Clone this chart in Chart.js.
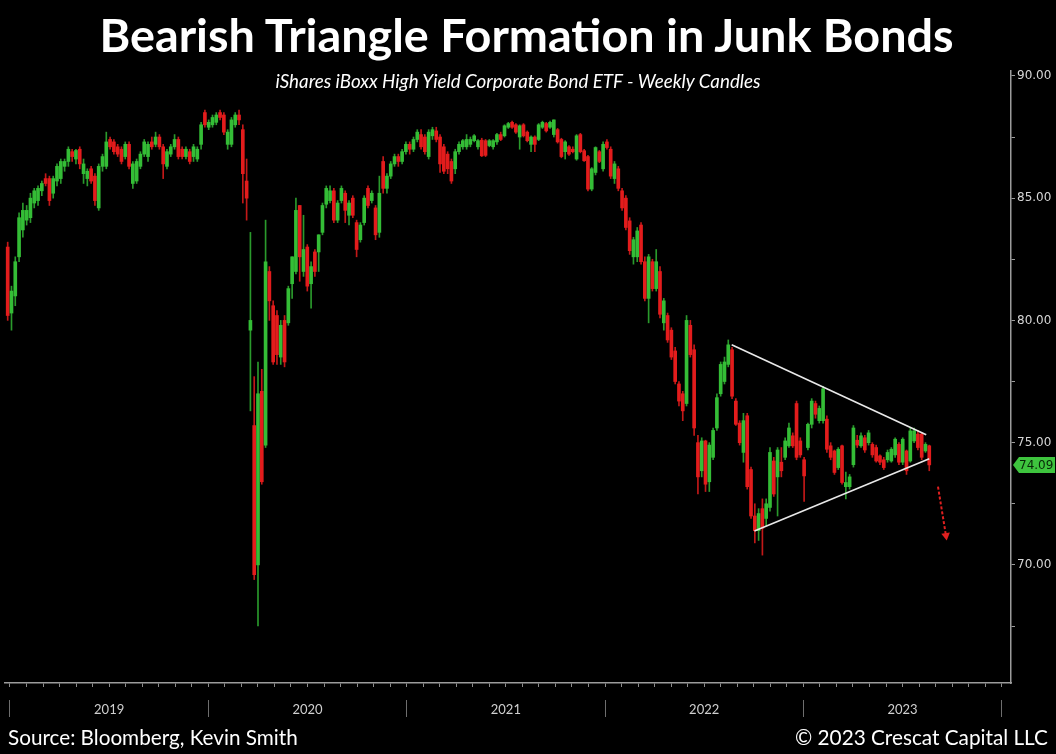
<!DOCTYPE html>
<html>
<head>
<meta charset="utf-8">
<script src="https://cdn.jsdelivr.net/npm/chart.js@4.4.0/dist/chart.umd.min.js"></script>
<style>
  html, body { margin: 0; padding: 0; background: #000; }
  #wrap { position: relative; width: 1056px; height: 754px; background: #000; overflow: hidden; }
  #chart { position: absolute; left: 0; top: 0; }
  .txt { position: absolute; color: #fff; white-space: nowrap; line-height: 1; font-family: Lato, sans-serif; }
  #title { font-weight: 700; }
  #subtitle { font-style: italic; }
</style>
</head>
<body>
<div id="wrap">
  <canvas id="chart" width="1056" height="754"></canvas>
  <div id="title" class="txt">Bearish Triangle Formation in Junk Bonds</div>
  <div id="subtitle" class="txt">iShares iBoxx High Yield Corporate Bond ETF - Weekly Candles</div>
  <div id="source" class="txt">Source: Bloomberg, Kevin Smith</div>
  <div id="copy" class="txt">© 2023 Crescat Capital LLC</div>
</div>
<script>
// weekly candles, HYG, from the last week of Dec 2018 (index 0) onward
var open = [
  83.0, 80.3, 81.0, 82.6, 83.7, 84.1, 84.2, 84.8, 84.9, 85.3,
  85.8, 85.8, 85.2, 85.7, 85.8, 86.3, 86.5, 86.9, 86.6, 87.0,
  86.0, 85.8, 86.2, 85.9, 84.6, 86.3, 86.3, 87.4, 87.3, 87.1,
  87.0, 86.7, 87.2, 85.6, 85.7, 86.3, 86.8, 86.7, 87.3, 87.2,
  87.5, 87.1, 86.3, 86.8, 87.1, 87.4, 87.0, 86.7, 86.9, 86.7,
  86.6, 87.2, 88.5, 87.9, 88.0, 88.1, 88.5, 88.4, 87.2, 87.2,
  88.0, 88.4, 87.8, 85.7, 79.6, 75.7, 70.0, 77.1, 74.9, 82.0,
  80.6, 80.2, 78.5, 80.0, 79.9, 81.5, 82.0, 84.7, 82.0, 83.0,
  81.5, 82.8, 82.8, 83.6, 84.75, 84.9, 85.3, 84.1, 84.9, 85.2,
  84.3, 85.0, 84.0, 83.3, 84.0, 85.4, 84.9, 84.6, 83.6, 86.5,
  85.4, 85.9, 86.4, 86.7, 86.5, 86.9, 87.2, 87.0, 87.4, 87.6,
  87.5, 86.7, 87.55, 87.75, 87.5, 87.1, 86.8, 86.5, 86.2, 86.9,
  87.1, 87.1, 87.2, 87.35, 87.1, 87.37, 87.35, 87.15, 87.1, 87.3,
  87.6, 87.55, 87.9, 88.1, 88.0, 87.5, 88.0, 87.7, 87.2, 87.5,
  87.4, 87.9, 88.05, 87.9, 87.6, 87.8, 87.4, 86.9, 87.1, 87.0,
  86.6, 87.6, 86.94, 86.7, 85.37, 86.05, 86.9, 86.2, 87.3, 87.0,
  85.8, 86.2, 85.3, 85.0, 84.07, 82.6, 82.6, 83.9, 82.4, 80.9,
  82.4, 81.3, 82.0, 79.9, 80.2, 79.6, 78.75, 77.4, 77.0, 76.6,
  79.8, 78.8, 75.0, 73.85, 75.07, 73.4, 74.4, 75.6, 77.0, 77.5,
  78.2, 78.8, 76.7, 75.8, 74.6, 76.1, 73.9, 72.0, 71.4, 72.3,
  71.9, 72.35, 74.25, 73.6, 74.2, 74.4, 74.87, 75.28, 76.6, 75.07,
  74.3, 74.8, 75.75, 76.6, 75.9, 75.9, 75.96, 74.87, 74.66, 73.98,
  74.87, 73.2, 73.2, 74.1, 75.1, 74.87, 75.2, 75.0, 74.93, 74.8,
  74.46, 74.3, 74.3, 74.25, 74.5, 74.93, 74.2, 74.66, 74.25, 75.07,
  75.35, 75.35, 74.66, 74.87
];
var high = [
  83.2, 81.4, 82.6, 84.4, 84.8, 84.7, 85.2, 85.4, 85.5, 85.7,
  86.0, 85.9, 85.9, 86.4, 86.6, 86.6, 87.1, 87.0, 87.0, 87.1,
  86.6, 86.2, 86.3, 86.0, 86.4, 86.8, 87.7, 87.5, 87.4, 87.2,
  87.1, 87.3, 87.3, 86.5, 86.6, 86.9, 87.4, 87.3, 87.5, 87.7,
  87.6, 87.2, 87.0, 87.2, 87.6, 87.5, 87.1, 87.1, 87.0, 87.2,
  87.1, 88.1, 88.6, 88.2, 88.4, 88.5, 88.6, 88.5, 87.8, 88.3,
  88.5, 88.6, 88.0, 86.6, 83.6, 77.7, 78.3, 78.0, 84.1, 82.2,
  80.8, 80.4, 80.0, 80.2, 81.4, 82.6, 85.0, 84.7, 84.3, 83.1,
  82.4, 82.9, 83.5, 84.8, 85.5, 85.5, 85.4, 84.9, 85.5, 85.3,
  84.9, 85.1, 84.1, 84.0, 85.1, 85.5, 85.3, 84.7, 85.9, 86.7,
  86.0, 86.5, 86.8, 86.8, 87.0, 87.3, 87.3, 87.5, 87.8, 87.8,
  87.6, 87.8, 87.9, 87.9, 87.6, 87.2, 86.9, 86.6, 87.0, 87.3,
  87.4, 87.6, 87.5, 87.6, 87.4, 87.45, 87.4, 87.4, 87.4, 87.65,
  87.7, 88.0, 88.1, 88.15, 88.05, 88.0, 88.05, 87.75, 87.55, 87.55,
  88.05, 88.15, 88.1, 88.15, 88.2, 87.85, 87.45, 87.35, 87.15, 87.1,
  87.6, 87.65, 87.0, 86.75, 86.25, 87.1, 86.95, 87.3, 87.4, 87.1,
  86.5, 86.3, 85.4, 85.1, 84.2, 83.4, 83.8, 84.0, 82.6, 82.7,
  82.5, 82.9, 82.2, 80.9, 80.3, 79.7, 78.9, 77.5, 77.1, 80.2,
  80.0, 79.0, 75.3, 75.2, 75.1, 75.0, 75.6, 77.0, 78.3, 78.5,
  79.2, 78.9, 76.8, 75.9, 76.2, 76.2, 74.0, 72.5, 72.3, 72.7,
  72.7, 74.8, 74.4, 74.8, 74.8, 75.2, 75.8, 75.4, 76.7, 75.2,
  74.4, 75.8, 76.8, 76.7, 76.5, 77.3, 76.1, 75.0, 74.7, 74.8,
  74.9, 73.8, 73.7, 75.7, 75.3, 75.4, 75.3, 75.5, 75.0, 74.9,
  74.5, 74.4, 74.7, 74.8, 75.2, 75.0, 75.2, 74.7, 75.6, 75.6,
  75.5, 75.4, 75.0, 74.9
];
var low = [
  80.0, 79.6, 80.6, 82.4, 83.4, 83.9, 84.0, 84.6, 84.7, 85.1,
  85.5, 84.7, 85.0, 85.5, 85.6, 86.1, 86.3, 86.5, 86.4, 86.2,
  85.6, 85.5, 85.6, 84.7, 84.5, 86.1, 86.2, 87.0, 86.8, 86.7,
  86.4, 86.6, 86.2, 85.4, 85.6, 86.2, 86.7, 86.5, 87.0, 87.1,
  87.0, 85.8, 86.2, 86.7, 87.0, 86.6, 86.6, 86.6, 86.4, 86.5,
  86.5, 87.0, 87.9, 87.8, 87.9, 88.0, 88.2, 87.6, 87.0, 87.1,
  87.9, 88.0, 84.8, 84.1, 76.3, 69.4, 67.5, 73.3, 74.8, 80.0,
  78.2, 78.2, 78.2, 78.1, 79.8, 80.9, 81.9, 81.6, 81.8, 81.2,
  80.5, 81.8, 82.0, 83.5, 84.6, 84.8, 84.0, 84.0, 84.8, 84.0,
  83.9, 84.2, 82.6, 83.2, 83.9, 84.6, 84.8, 83.3, 83.4, 85.2,
  85.2, 85.8, 86.3, 86.3, 86.4, 86.8, 86.8, 86.9, 87.3, 87.0,
  86.8, 86.6, 87.4, 87.3, 86.05, 86.0, 86.0, 85.6, 86.0, 86.8,
  87.0, 87.0, 87.1, 87.3, 87.0, 86.7, 86.7, 87.1, 87.0, 87.2,
  87.35, 87.5, 87.85, 87.85, 87.65, 87.0, 87.5, 87.3, 86.9, 86.9,
  87.35, 87.85, 87.7, 87.85, 87.5, 87.25, 86.65, 86.6, 86.75, 86.85,
  86.55, 86.85, 86.5, 85.3, 85.3, 85.95, 86.45, 86.1, 87.0, 85.8,
  85.6, 85.3, 84.5, 83.7, 82.7, 82.3, 82.4, 82.3, 80.8, 79.9,
  81.2, 81.2, 80.1, 79.6, 79.1, 78.4, 77.4, 76.5, 75.9, 76.5,
  78.5, 75.3, 72.9, 73.6, 73.0, 73.0, 74.3, 75.5, 76.9, 77.4,
  78.1, 76.8, 75.7, 74.9, 74.2, 73.1, 71.9, 70.9, 71.0, 70.4,
  71.6, 72.2, 72.8, 72.0, 73.6, 74.3, 74.8, 74.8, 74.3, 74.4,
  72.6, 74.7, 75.6, 76.0, 75.8, 75.8, 74.6, 74.3, 73.7, 73.9,
  73.3, 72.7, 73.1, 74.0, 74.8, 74.8, 74.6, 74.9, 74.4, 74.2,
  74.1, 73.9, 74.2, 74.2, 74.4, 74.1, 74.1, 73.7, 74.2, 75.0,
  74.7, 74.3, 74.6, 73.85
];
var close = [
  80.2, 81.2, 82.4, 84.2, 84.5, 84.5, 85.0, 85.3, 85.4, 85.6,
  85.6, 84.9, 85.8, 86.3, 86.5, 86.5, 87.0, 86.7, 86.95, 86.4,
  86.4, 86.1, 85.7, 84.9, 86.3, 86.7, 87.3, 87.1, 86.9, 86.8,
  86.5, 87.2, 86.3, 86.4, 86.5, 86.8, 87.3, 87.2, 87.1, 87.5,
  87.1, 86.4, 86.9, 87.1, 87.4, 86.7, 86.7, 87.0, 86.5, 87.1,
  87.0, 88.0, 88.0, 88.1, 88.3, 88.4, 88.3, 87.7, 87.7, 88.2,
  88.4, 88.2, 86.0, 85.0, 80.0, 69.6, 77.0, 73.4, 82.4, 80.8,
  78.3, 78.6, 79.8, 78.3, 81.3, 82.6, 84.5, 82.6, 82.9, 81.4,
  82.2, 82.0, 83.5, 84.7, 85.4, 85.3, 84.1, 84.8, 85.4, 84.5,
  84.8, 84.3, 82.9, 83.9, 85.0, 84.7, 85.2, 83.5, 85.2, 85.4,
  85.9, 86.4, 86.7, 86.5, 86.9, 87.2, 87.0, 87.4, 87.7, 87.1,
  86.9, 87.7, 87.8, 87.4, 86.4, 86.1, 86.2, 85.7, 86.9, 87.2,
  87.35, 87.4, 87.4, 87.55, 87.35, 86.73, 86.75, 87.35, 87.35, 87.6,
  87.4, 87.96, 88.05, 87.9, 87.7, 87.96, 87.55, 87.35, 87.5, 87.2,
  88.0, 88.1, 87.75, 88.1, 88.2, 87.3, 86.7, 87.3, 86.8, 86.9,
  87.55, 86.9, 86.53, 85.37, 86.2, 87.07, 86.5, 87.2, 87.07, 85.9,
  86.4, 85.4, 84.6, 83.8, 82.85, 83.3, 83.66, 82.4, 80.9, 82.6,
  81.3, 82.4, 80.25, 80.8, 79.2, 78.5, 77.5, 76.7, 76.3, 80.0,
  78.6, 75.6, 73.6, 75.07, 73.3, 74.9, 75.5, 76.84, 78.2, 78.3,
  79.0, 76.9, 75.75, 75.0, 75.9, 73.2, 72.0, 71.4, 72.1, 71.5,
  72.5, 74.6, 72.9, 74.7, 73.85, 75.07, 75.6, 74.87, 74.4, 74.5,
  73.64, 75.75, 76.7, 76.16, 76.4, 77.2, 74.73, 74.4, 73.78, 74.73,
  73.37, 73.37, 73.6, 75.6, 74.9, 75.28, 74.7, 75.4, 74.5, 74.25,
  74.2, 73.98, 74.6, 74.73, 75.14, 74.2, 75.14, 73.85, 75.48, 75.48,
  74.8, 74.4, 74.93, 74.09
];

// x axis is in candle index units
var xMin = -0.71, xMax = 264.55;
var yearStarts = [0.6, 52.9, 105.2, 157.5, 209.8, 262.1];
var yearLabels = ['2019', '2020', '2021', '2022', '2023'];
var priceTicks = [67.5, 70, 72.5, 75, 77.5, 80, 82.5, 85, 87.5, 90];
var yMin = 65.17, yMax = 90.2;

// drawn annotations (index, price)
var triUpper = [[190.9, 79.0], [242.2, 75.32]];
var triLower = [[196.9, 71.39], [243.0, 74.34]];
var arrow = [[245.3, 73.2], [247.4, 71.2]];

var green = '#34bd36', red = '#e31c1c';
var greenWick = '#2a9a2c', redWick = '#c21818';

var monthTicks = [];
for (var m = yearStarts[0]; m <= xMax; m += (yearStarts[1] - yearStarts[0]) / 12) monthTicks.push(m);

var yearTicks = [];
var midLabel = {};
yearStarts.forEach(function (s, i) {
  yearTicks.push(s);
  if (i < yearLabels.length) {
    var mid = (s + yearStarts[i + 1]) / 2;
    yearTicks.push(mid);
    midLabel[mid.toFixed(3)] = yearLabels[i];
  }
});

function up(i) { return close[i] >= open[i]; }
function pts(arr) { return arr.map(function (p) { return { x: p[0], y: p[1] }; }); }

var lastTag = {
  id: 'lastTag',
  afterDraw: function (chart) {
    var last = close[close.length - 1];
    var y = chart.scales.y.getPixelForValue(last);
    var x0 = chart.chartArea.right + 2;
    var ctx = chart.ctx;
    ctx.save();
    ctx.fillStyle = '#3ec43e';
    ctx.beginPath();
    ctx.moveTo(x0, y);
    ctx.lineTo(x0 + 6, y - 8);
    ctx.lineTo(1055, y - 8);
    ctx.lineTo(1055, y + 8);
    ctx.lineTo(x0 + 6, y + 8);
    ctx.closePath();
    ctx.fill();
    ctx.fillStyle = '#082808';
    ctx.font = '12px "DejaVu Sans"';
    ctx.textBaseline = 'middle';
    ctx.fillText(last.toFixed(2), x0 + 6, y + 1);
    ctx.restore();
  }
};

new Chart(document.getElementById('chart'), {
  type: 'bar',
  data: {
    datasets: [
      {
        label: 'wicks',
        data: close.map(function (c, i) { return { x: i, y: [low[i], high[i]] }; }),
        backgroundColor: function (ctx) { return up(ctx.dataIndex) ? greenWick : redWick; },
        barThickness: 1,
        grouped: false,
        order: 3
      },
      {
        label: 'bodies',
        data: close.map(function (c, i) { return { x: i, y: [open[i], c] }; }),
        backgroundColor: function (ctx) { return up(ctx.dataIndex) ? green : red; },
        barThickness: 3,
        minBarLength: 1,
        grouped: false,
        order: 2
      },
      {
        type: 'line', label: 'upper', data: pts(triUpper),
        borderColor: '#e8e8e8', borderWidth: 1.6, pointRadius: 0, order: 1
      },
      {
        type: 'line', label: 'lower', data: pts(triLower),
        borderColor: '#e8e8e8', borderWidth: 1.6, pointRadius: 0, order: 1
      },
      {
        type: 'line', label: 'arrow', data: pts(arrow),
        borderColor: '#e02020', borderWidth: 2, borderDash: [3, 2],
        pointRadius: [0, 5], pointStyle: 'triangle', rotation: 171,
        pointBackgroundColor: '#e02020', pointBorderWidth: 0, order: 1
      }
    ]
  },
  options: {
    responsive: false,
    animation: false,
    layout: { padding: { left: 3, top: 71, right: 0, bottom: 34 } },
    plugins: { legend: { display: false }, tooltip: { enabled: false }, title: { display: false } },
    scales: {
      x: {
        type: 'linear', position: 'bottom', min: xMin, max: xMax, weight: 0, offset: false,
        afterBuildTicks: function (s) { s.ticks = monthTicks.map(function (v) { return { value: v }; }); },
        afterFit: function (s) { s.height = 17; },
        ticks: { display: false },
        grid: { offset: false, drawOnChartArea: false, tickLength: 4, color: '#8c8c8c', tickColor: '#8c8c8c' },
        border: { color: '#9c9c9c', width: 1.5 }
      },
      x2: {
        type: 'linear', position: 'bottom', min: xMin, max: xMax, weight: 1, offset: false,
        afterBuildTicks: function (s) { s.ticks = yearTicks.map(function (v) { return { value: v }; }); },
        afterFit: function (s) { s.height = 20; },
        ticks: {
          autoSkip: false, maxRotation: 0, padding: -15, color: '#cfcfcf',
          font: { family: 'Lato', size: 13 },
          callback: function (v) { return midLabel[Number(v).toFixed(3)] || ''; }
        },
        grid: {
          offset: false, drawOnChartArea: false, tickLength: 17,
          tickColor: function (ctx) {
            return ctx.tick && yearStarts.indexOf(ctx.tick.value) >= 0 ? '#6e6e6e' : 'rgba(0,0,0,0)';
          }
        },
        border: { display: false }
      },
      y: {
        position: 'right', min: yMin, max: yMax,
        afterBuildTicks: function (s) { s.ticks = priceTicks.map(function (v) { return { value: v }; }); },
        afterFit: function (s) { s.width = 45; },
        ticks: {
          padding: 2, color: '#d6d6d6', font: { family: 'DejaVu Sans', size: 12 },
          callback: function (v) { return v % 5 === 0 ? Number(v).toFixed(2) : ''; }
        },
        grid: { drawOnChartArea: false, tickLength: 4, tickColor: '#9c9c9c' },
        border: { color: '#9c9c9c', width: 1.5 }
      }
    }
  },
  plugins: [lastTag]
});

// fit the html texts to the widths they have in the original
var meas = document.createElement('canvas').getContext('2d');
function place(id, style, width, baseline, left, align) {
  var el = document.getElementById(id);
  meas.font = style + ' 100px Lato';
  var size = 100 * width / meas.measureText(el.textContent).width;
  el.style.fontSize = size + 'px';
  el.style.top = (baseline - 0.887 * size) + 'px';
  if (align === 'center') el.style.left = (left - width / 2) + 'px';
  else if (align === 'right') el.style.left = (left - width) + 'px';
  else el.style.left = left + 'px';
}
place('title', 'bold', 857, 52, 528, 'center');
place('subtitle', 'italic', 487, 89, 519, 'center');
place('source', 'normal', 290, 745, 8, 'left');
place('copy', 'normal', 253, 745, 1048, 'right');
</script>
</body>
</html>
